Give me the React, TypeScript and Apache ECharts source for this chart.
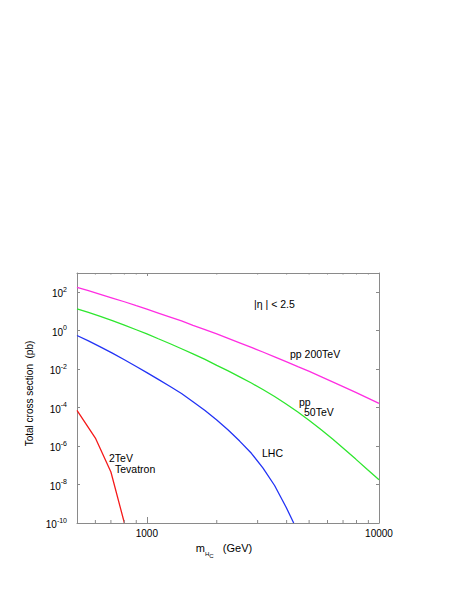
import React, { useEffect, useRef } from "react";
import * as echarts from "echarts";

// Mass grid (GeV) shared by the curves
const massGrid = [500, 560, 630, 710, 800, 900, 1000, 1120, 1260, 1410, 1580, 1780, 2000, 2240, 2510, 2820, 3160, 3550, 3980, 4470, 5010, 5620, 6310, 7080, 7940, 8910, 10000];
// pp 200 TeV total cross section (pb)
const pp200TeV = [178, 120, 78, 50, 32, 20, 13.2, 8.3, 5.1, 3.2, 1.9, 1.15, 0.68, 0.40, 0.234, 0.135, 0.078, 0.044, 0.0245, 0.0135, 7.6e-3, 4.1e-3, 2.2e-3, 1.17e-3, 6.2e-4, 3.2e-4, 1.66e-4];
// pp 50 TeV total cross section (pb)
const pp50TeV = [13.8, 8.9, 5.5, 3.3, 1.95, 1.12, 0.68, 0.38, 0.21, 0.115, 0.062, 0.032, 0.0158, 8.1e-3, 4.0e-3, 1.9e-3, 8.7e-4, 3.8e-4, 1.55e-4, 5.9e-5, 2.14e-5, 7.2e-6, 2.3e-6, 7.1e-7, 2.1e-7, 6.0e-8, 1.78e-8];
// LHC
const lhcMass = [500, 560, 630, 710, 800, 900, 1000, 1120, 1260, 1410, 1580, 1780, 2000, 2240, 2510, 2820, 3160, 3550, 3980, 4290];
const lhc = [0.56, 0.295, 0.145, 0.068, 0.031, 0.0138, 6.6e-3, 2.95e-3, 1.26e-3, 5.4e-4, 2.04e-4, 7.1e-5, 2.24e-5, 6.8e-6, 1.82e-6, 4.2e-7, 7.4e-8, 8.9e-9, 6.6e-10, 1e-10];
// 2 TeV Tevatron
const tevatronMass = [500, 600, 700, 800];
const tevatron = [7.1e-5, 2.6e-6, 4.5e-8, 1e-10];

const xTickLabels = ["1000", "10000"];
const xMinorTicks = [600, 700, 800, 900, 2000, 3000, 4000, 5000, 6000, 7000, 8000, 9000];
const yLabelExponents = [-10, -8, -6, -4, -2, 0, 2];

const X_MIN = 500;
const X_MAX = 10000;
const Y_MIN = 1e-10;
const Y_MAX = 1e3;

const FONT = "'Liberation Sans', Arial, Helvetica, sans-serif";
const AXIS = "#8a8a8a";

const pairs = (xs: number[], ys: number[]) => xs.map((x, i) => [x, ys[i]]);

export default function App() {
  const ref = useRef<HTMLDivElement>(null);

  useEffect(() => {
    if (!ref.current) return;
    const chart = echarts.init(ref.current, undefined, { renderer: "svg" });

    const yFormatter = (v: number) => {
      const l = Math.log10(v);
      const e = Math.round(l);
      if (Math.abs(l - e) > 1e-6 || !yLabelExponents.includes(e)) return "";
      return `{b|10}{s|${e}}`;
    };
    const xFormatter = (v: number) => {
      const r = Math.round(v);
      return Math.abs(v - r) < 1e-6 && xTickLabels.includes(String(r)) ? String(r) : "";
    };

    const lineBase = {
      type: "line",
      showSymbol: false,
      symbol: "none",
      clip: true,
      smooth: false,
      xAxisIndex: 0,
      yAxisIndex: 0,
      z: 3,
    };

    const option: any = {
      animation: false,
      textStyle: { fontFamily: FONT },
      grid: { left: 77, top: 273, width: 302, height: 250 },
      xAxis: [
        {
          type: "log",
          logBase: 10,
          min: X_MIN,
          max: X_MAX,
          position: "bottom",
          name: "{m|m}{h|H}{c|C}{g|   (GeV)}",
          nameLocation: "middle",
          nameGap: 19,
          nameTextStyle: {
            color: "#000",
            fontFamily: FONT,
            padding: [0, 8, 0, 0],
            rich: {
              m: { fontSize: 11, height: 11, lineHeight: 11, verticalAlign: "top", fontFamily: FONT, color: "#000" },
              h: { fontSize: 6, height: 23, lineHeight: 23, verticalAlign: "top", fontFamily: FONT, color: "#000" },
              c: { fontSize: 6, height: 27, lineHeight: 27, verticalAlign: "top", fontFamily: FONT, color: "#000" },
              g: { fontSize: 11, height: 11, lineHeight: 11, verticalAlign: "top", fontFamily: FONT, color: "#000" },
            },
          },
          axisLine: { lineStyle: { color: AXIS, width: 1 } },
          axisTick: { inside: true, length: 6, lineStyle: { color: AXIS } },
          axisLabel: { color: "#000", fontSize: 10, margin: 5, fontFamily: FONT, formatter: xFormatter, showMinLabel: false },
          splitLine: { show: false },
          minorTick: { show: false },
        },
        {
          type: "log",
          logBase: 10,
          min: X_MIN,
          max: X_MAX,
          position: "top",
          axisLine: { lineStyle: { color: AXIS, width: 1 } },
          axisTick: { inside: true, length: 3, lineStyle: { color: AXIS } },
          axisLabel: { show: false },
          splitLine: { show: false },
        },
      ],
      yAxis: [
        {
          type: "log",
          logBase: 10,
          min: Y_MIN,
          max: Y_MAX,
          interval: 2,
          position: "left",
          name: "Total cross section  (pb)",
          nameLocation: "middle",
          nameGap: 38,
          nameTextStyle: { color: "#000", fontSize: 10, fontFamily: FONT, padding: [0, 0, 0, 9] },
          axisLine: { lineStyle: { color: AXIS, width: 1 } },
          axisTick: { inside: true, length: 3, lineStyle: { color: AXIS } },
          axisLabel: {
            color: "#000",
            fontSize: 10,
            margin: 10,
            fontFamily: FONT,
            formatter: yFormatter,
            rich: {
              b: { fontSize: 10, lineHeight: 13, verticalAlign: "bottom", fontFamily: FONT, color: "#000" },
              s: { fontSize: 7, lineHeight: 6, verticalAlign: "top", fontFamily: FONT, color: "#000" },
            },
          },
          splitLine: { show: false },
        },
        {
          type: "log",
          logBase: 10,
          min: Y_MIN,
          max: Y_MAX,
          interval: 2,
          position: "right",
          axisLine: { lineStyle: { color: AXIS, width: 1 } },
          axisTick: { inside: true, length: 3, lineStyle: { color: AXIS } },
          axisLabel: { show: false },
          splitLine: { show: false },
        },
      ],
      graphic: [
        { type: "text", left: 254, top: 298, style: { text: "|η | < 2.5", fontSize: 10.5, fontFamily: FONT, fill: "#000" } },
        { type: "text", left: 290, top: 348, style: { text: "pp 200TeV", fontSize: 10.5, fontFamily: FONT, fill: "#000" } },
        { type: "text", left: 299, top: 396, style: { text: "pp", fontSize: 10.5, fontFamily: FONT, fill: "#000" } },
        { type: "text", left: 304, top: 406, style: { text: "50TeV", fontSize: 10.5, fontFamily: FONT, fill: "#000" } },
        { type: "text", left: 262, top: 447, style: { text: "LHC", fontSize: 10.5, fontFamily: FONT, fill: "#000" } },
        { type: "text", left: 109, top: 452, style: { text: "2TeV", fontSize: 10.5, fontFamily: FONT, fill: "#000" } },
        { type: "text", left: 115, top: 463, style: { text: "Tevatron", fontSize: 10.5, fontFamily: FONT, fill: "#000" } },
      ],
      series: [
        { ...lineBase, name: "pp 200TeV", data: pairs(massGrid, pp200TeV), lineStyle: { color: "#ff2ee2", width: 1.3 } },
        { ...lineBase, name: "pp 50TeV", data: pairs(massGrid, pp50TeV), lineStyle: { color: "#2ee62e", width: 1.3 } },
        { ...lineBase, name: "LHC", data: pairs(lhcMass, lhc), lineStyle: { color: "#2233f5", width: 1.3 } },
        { ...lineBase, name: "2TeV Tevatron", data: pairs(tevatronMass, tevatron), lineStyle: { color: "#f51a1a", width: 1.3 } },
        {
          type: "custom",
          name: "minor ticks",
          xAxisIndex: 0,
          yAxisIndex: 0,
          silent: true,
          clip: false,
          z: 4,
          data: xMinorTicks.map((x) => [x, 1]),
          encode: { x: 0, y: 1 },
          renderItem: (params: any, api: any) => {
            const x = api.value(0);
            const b = api.coord([x, Y_MIN]);
            const t = api.coord([x, Y_MAX]);
            return {
              type: "group",
              children: [
                { type: "line", shape: { x1: b[0], y1: b[1], x2: b[0], y2: b[1] - 3 }, style: { stroke: AXIS, lineWidth: 1 } },
                { type: "line", shape: { x1: t[0], y1: t[1], x2: t[0], y2: t[1] + 1.5 }, style: { stroke: AXIS, lineWidth: 1 } },
              ],
            };
          },
        },
      ],
    };

    chart.setOption(option);
    return () => chart.dispose();
  }, []);

  return <div ref={ref} style={{ position: "absolute", left: 0, top: 0, width: 457, height: 591 }} />;
}
